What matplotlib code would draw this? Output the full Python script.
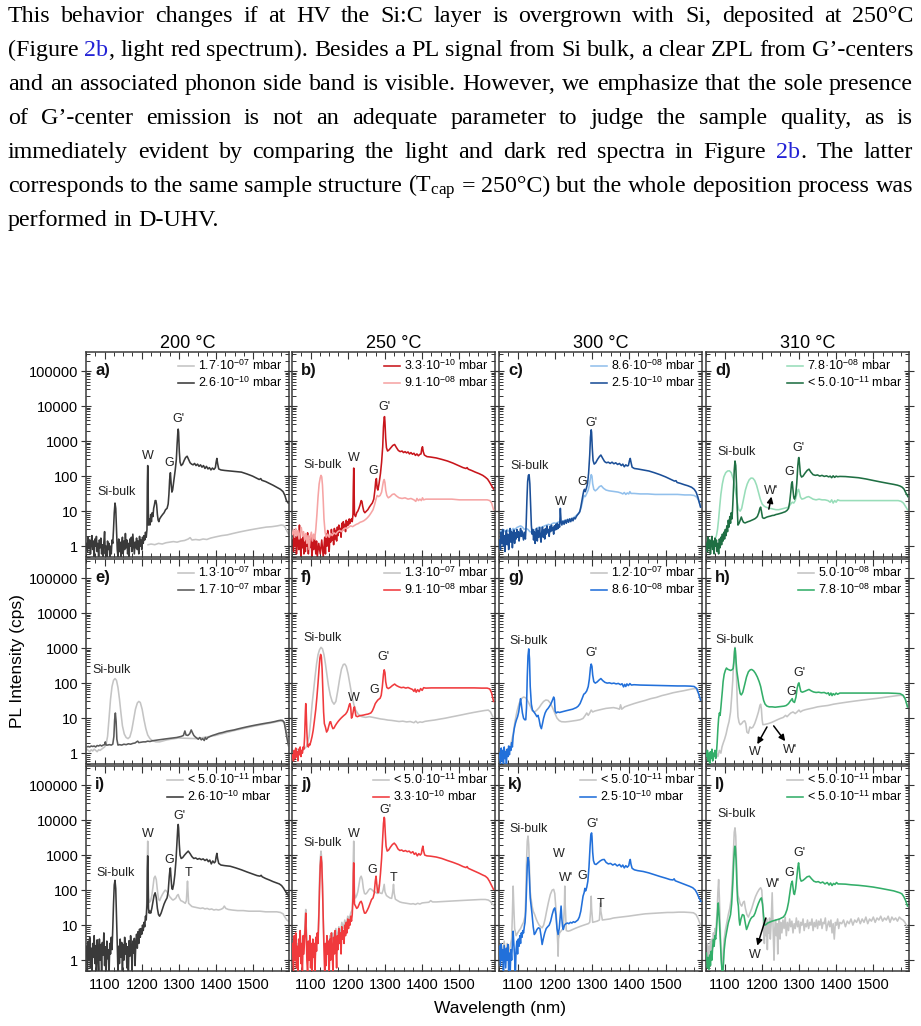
import matplotlib
matplotlib.use('Agg')
import matplotlib.pyplot as plt
from matplotlib.ticker import MultipleLocator, LogLocator, FixedLocator, FixedFormatter, NullFormatter

plt.rcParams['font.family'] = ['Liberation Sans', 'DejaVu Sans']
plt.rcParams['mathtext.fontset'] = 'custom'
plt.rcParams['mathtext.rm'] = 'Liberation Serif'
plt.rcParams['mathtext.sf'] = 'Liberation Sans'
plt.rcParams['mathtext.it'] = 'Liberation Serif:italic'
plt.rcParams['mathtext.bf'] = 'Liberation Serif:bold'

# ---------------- paragraph text ----------------
PARA_LINES = [
    "This behavior changes if at HV the Si:C layer is overgrown with Si, deposited at 250°C",
    "(Figure 2b, light red spectrum). Besides a PL signal from Si bulk, a clear ZPL from G’-centers",
    "and an associated phonon side band is visible. However, we emphasize that the sole presence",
    "of G’-center emission is not an adequate parameter to judge the sample quality, as is",
    "immediately evident by comparing the light and dark red spectra in Figure 2b. The latter",
    "corresponds to the same sample structure (T$_{\\mathrm{cap}}$ = 250°C) but the whole deposition process was",
    "performed in D-UHV.",
]
PARA_JUSTIFY = [True, True, True, True, True, True, False]

# ---------------- axes labels ----------------
COL_TITLES = ['200 °C', '250 °C', '300 °C', '310 °C']
PANEL_LETTERS = ['a)', 'b)', 'c)', 'd)', 'e)', 'f)', 'g)', 'h)', 'i)', 'j)', 'k)', 'l)']
Y_TICKS = [1, 10, 100, 1000, 10000, 100000]
Y_TICK_LABELS = ['1', '10', '100', '1000', '10000', '100000']
X_TICKS = [1100, 1200, 1300, 1400, 1500]
X_TICK_LABELS = ['1100', '1200', '1300', '1400', '1500']

# ---------------- spectra (wavelength nm, PL cps) ----------------
A_LIGHT = [(1217,1.1),(1225,1.15),(1235,1.1),(1245,1.2),(1255,1.15),(1265,1.25),(1275,1.3),(1285,1.35),(1295,1.3),
           (1305,1.4),(1315,1.45),(1325,1.6),(1330,1.75),(1335,1.5),(1345,1.55),(1355,1.5),(1365,1.6),(1375,1.55),
           (1385,1.7),(1395,1.8),(1405,1.9),(1415,2.0),(1430,2.1),(1445,2.3),(1460,2.5),(1475,2.7),(1490,2.9),
           (1505,3.1),(1520,3.3),(1535,3.5),(1550,3.6),(1565,3.8),(1575,4.0),(1582,3.9),(1587,3.3),(1591,2.6),(1595,2.2)]
A_DARK = [(1051,1.2),(1054,0.7),(1056,1.8),(1058,0.9),(1060,1.5),(1062,0.6),(1064,1.3),(1066,2.0),(1068,0.8),(1070,1.4),
          (1072,0.5),(1074,1.6),(1076,1.0),(1078,1.9),(1080,0.7),(1082,1.2),(1084,0.5),(1086,1.5),(1088,0.9),(1090,1.7),
          (1092,0.6),(1094,1.1),(1096,0.5),(1098,1.3),(1100,2.6),(1102,0.6),(1104,1.0),(1106,0.5),(1108,1.4),(1110,0.8),
          (1112,1.2),(1114,0.5),(1116,1.0),(1118,0.6),(1120,1.5),(1122,1.2),(1124,3),(1126,9),(1128,17),(1130,12),
          (1132,3),(1134,0.8),(1136,0.5),(1138,1.6),(1140,0.7),(1142,1.3),(1144,0.5),(1146,1.1),(1148,1.8),(1150,0.6),
          (1152,1.4),(1154,0.8),(1156,2.3),(1158,0.9),(1160,1.5),(1162,0.6),(1164,1.2),(1166,0.5),(1168,1.6),(1170,1.0),
          (1172,1.8),(1174,0.7),(1176,2.2),(1178,1.1),(1180,0.6),(1182,1.3),(1184,0.9),(1186,1.7),(1188,0.8),(1190,1.4),
          (1192,0.6),(1194,1.9),(1196,1.0),(1198,1.5),(1200,0.8),(1202,1.8),(1204,1.2),(1206,2.0),(1208,1.5),(1210,2.5),
          (1212,1.8),(1214,3),(1215,60),(1216,200),(1217,60),(1218,4),(1220,6),(1222,4),(1224,8),(1226,5),(1228,9),
          (1230,7),(1232,12),(1234,15),(1236,20),(1238,20),(1240,15),(1242,8),(1244,5.5),(1246,5),(1248,6),(1252,7),
          (1256,8),(1260,9),(1264,11),(1268,12),(1271,16),(1273,30),(1275,80),(1277,125),(1279,60),(1281,35),(1283,40),
          (1286,70),(1290,150),(1293,300),(1295,800),(1297,1800),(1298,2200),(1299,1800),(1301,500),(1303,250),(1306,200),
          (1310,220),(1314,280),(1318,340),(1322,370),(1326,300),(1330,240),(1334,220),(1338,210),(1342,230),(1346,200),
          (1350,220),(1354,190),(1358,210),(1362,180),(1366,200),(1370,165),(1374,190),(1378,160),(1382,175),(1386,150),
          (1390,170),(1394,155),(1398,175),(1400,250),(1402,320),(1404,230),(1407,160),(1413,150),(1423,145),(1438,140),
          (1453,135),(1468,130),(1483,115),(1498,100),(1508,88),(1516,80),(1520,85),(1523,76),(1533,70),(1543,62),
          (1553,55),(1563,48),(1573,42),(1580,36),(1585,28),(1589,20),(1594,17)]

B_DARK = [(1051,1.5),(1054,0.7),(1056,2.5),(1058,1.0),(1060,1.8),(1062,0.6),(1064,1.4),(1066,2.2),(1068,0.8),(1070,4),
          (1072,1.2),(1074,0.5),(1076,1.6),(1078,0.9),(1080,2.0),(1082,0.6),(1084,1.3),(1086,0.7),(1088,1.8),(1090,1.0),
          (1092,2.4),(1094,0.6),(1096,1.5),(1098,0.9),(1100,2.0),(1102,1.1),(1104,0.5),(1106,1.6),(1108,0.8),(1110,1.9),
          (1112,1.2),(1114,0.6),(1116,1.4),(1118,0.5),(1122,1.2),(1126,0.6),(1130,1.5),(1134,0.5),(1138,1.8),(1140,0.6),
          (1142,2.2),(1144,1.0),(1146,2.8),(1148,1.2),(1150,0.7),(1152,2.0),(1154,1.3),(1156,3.0),(1158,1.5),(1160,2.2),
          (1162,1.1),(1164,3.2),(1166,1.6),(1168,2.8),(1170,1.4),(1172,3.5),(1174,2.0),(1176,4.0),(1178,2.5),(1180,3.2),
          (1182,1.8),(1184,4.5),(1186,2.8),(1188,5),(1190,3.5),(1192,4.2),(1194,2.6),(1196,5.5),(1198,3.8),(1200,5),
          (1202,4),(1204,6),(1206,4.5),(1208,5.5),(1210,6),(1212,5),(1214,8),(1215,50),(1216,170),(1217,50),(1218,8),
          (1221,7),(1224,9),(1227,10),(1230,12),(1233,15),(1236,20),(1238,19),(1240,14),(1243,10),(1246,9),(1250,10),
          (1254,11),(1258,13),(1262,15),(1266,17),(1270,22),(1273,40),(1275,70),(1277,85),(1279,45),(1281,40),(1284,60),
          (1288,120),(1291,250),(1294,700),(1296,2500),(1298,4800),(1299,5000),(1300,3500),(1302,1200),(1304,650),
          (1307,520),(1311,560),(1316,650),(1321,750),(1326,800),(1331,650),(1336,540),(1341,500),(1346,520),(1350,470),
          (1354,500),(1358,460),(1362,490),(1366,430),(1370,470),(1374,420),(1378,450),(1382,390),(1386,430),(1390,380),
          (1394,420),(1397,430),(1399,600),(1401,690),(1403,500),(1406,400),(1413,360),(1423,350),(1438,330),(1453,300),
          (1468,270),(1483,235),(1498,200),(1510,175),(1518,165),(1521,175),(1524,158),(1533,145),(1543,130),(1553,118),
          (1563,105),(1570,93),(1576,82),(1581,68),(1586,55),(1592,43)]
B_LIGHT = [(1051,2.2),(1054,3.0),(1057,1.8),(1060,3.2),(1063,2.0),(1066,2.8),(1069,1.6),(1072,2.5),(1075,3.4),(1078,1.9),
           (1081,2.6),(1084,1.5),(1087,2.3),(1090,1.2),(1093,2.0),(1096,0.8),(1099,1.8),(1102,2.5),(1105,1.4),(1108,2.2),
           (1111,1.6),(1114,3),(1117,8),(1120,25),(1123,60),(1126,90),(1128,105),(1130,95),(1132,55),(1134,20),(1136,6),
           (1139,2.5),(1142,1.8),(1146,2.2),(1150,1.8),(1154,2.3),(1158,2.0),(1163,2.4),(1168,2.2),(1173,2.6),(1178,2.8),
           (1183,2.6),(1188,3.0),(1193,3.3),(1198,3.2),(1203,3.5),(1208,3.8),(1213,3.6),(1218,3.9),(1223,4.2),(1228,4.4),
           (1233,4.8),(1238,5.0),(1243,5.3),(1248,5.8),(1253,6.5),(1258,7.5),(1263,9),(1268,11),(1272,15),(1276,22),
           (1279,28),(1283,26),(1287,28),(1291,35),(1294,55),(1296,72),(1298,80),(1300,65),(1302,40),(1305,28),(1309,24),
           (1314,26),(1320,30),(1325,31),(1331,27),(1338,24),(1346,23),(1354,24),(1362,22),(1370,23),(1378,21),(1383,19),
           (1386,23),(1390,20),(1394,22),(1398,20),(1401,24),(1404,21),(1410,22),(1425,22),(1440,22),(1460,22),(1480,22),
           (1500,21),(1520,21),(1540,21),(1560,21),(1575,21),(1582,20),(1587,17),(1592,11)]

C_LIGHT = [(1051,2.4),(1056,2.8),(1060,2.2),(1064,2.9),(1068,2.5),(1072,3.0),(1076,2.6),(1080,3.1),(1084,2.7),(1088,3.2),
           (1093,3.0),(1098,3.4),(1103,3.6),(1108,3.8),(1113,3.5),(1118,3.0),(1123,3.2),(1128,3.0),(1133,2.6),(1138,2.5),
           (1143,2.8),(1148,3.0),(1153,3.3),(1158,3.5),(1163,3.4),(1168,3.6),(1173,3.8),(1178,4.0),(1183,4.2),(1188,4.0),
           (1193,4.4),(1198,4.6),(1203,4.5),(1208,4.8),(1213,5.0),(1218,4.9),(1223,5.2),(1228,5.4),(1233,5.5),(1238,5.8),
           (1243,6.0),(1248,6.3),(1253,6.8),(1258,7.5),(1263,8.5),(1268,10),(1272,14),(1276,22),(1279,28),(1282,26),
           (1286,32),(1290,40),(1293,55),(1296,90),(1298,110),(1300,100),(1302,60),(1305,42),(1309,38),(1314,42),(1320,50),
           (1325,53),(1331,45),(1338,40),(1346,38),(1354,37),(1362,36),(1370,35),(1378,33),(1383,31),(1387,34),(1391,30),
           (1395,33),(1399,31),(1402,36),(1405,32),(1413,32),(1430,31),(1450,31),(1470,30),(1490,30),(1510,30),(1530,30),
           (1550,29),(1565,29),(1575,28),(1582,25),(1587,20),(1592,14)]
C_DARK = [(1051,1.5),(1054,0.8),(1056,2.5),(1058,1.2),(1060,3.0),(1062,1.0),(1064,2.0),(1066,0.7),(1068,1.8),(1070,2.8),
          (1072,1.1),(1074,2.2),(1076,0.8),(1078,1.5),(1080,3.2),(1082,1.3),(1084,2.6),(1086,0.9),(1088,1.9),(1090,2.9),
          (1092,1.2),(1094,2.4),(1096,1.6),(1098,3.0),(1100,1.8),(1102,2.6),(1104,1.4),(1106,2.2),(1108,3.2),(1110,1.9),
          (1112,2.7),(1114,2.0),(1116,1.5),(1118,2.5),(1121,1.6),(1123,4),(1125,20),(1127,70),(1129,105),(1131,110),
          (1133,60),(1135,15),(1137,4),(1139,2.2),(1141,3.0),(1143,1.5),(1145,2.6),(1147,1.2),(1149,2.2),(1151,3.2),
          (1153,1.4),(1155,2.8),(1157,1.8),(1159,3.4),(1161,2.0),(1163,1.3),(1165,2.6),(1167,3.5),(1169,1.8),(1171,2.9),
          (1173,1.6),(1175,3.2),(1177,2.2),(1179,3.8),(1181,2.4),(1183,3.0),(1185,1.9),(1187,3.6),(1189,2.6),(1191,4.0),
          (1193,2.8),(1195,3.4),(1197,2.2),(1199,3.8),(1201,2.9),(1203,4.2),(1205,3.0),(1207,4.5),(1209,3.2),(1211,4.0),
          (1213,3.5),(1215,12),(1217,5),(1219,4.0),(1222,5.2),(1225,4.2),(1228,5.5),(1231,4.5),(1234,5.8),(1237,4.8),
          (1240,6.0),(1243,5.0),(1246,6.2),(1249,5.3),(1252,6.5),(1255,6.0),(1258,7.0),(1261,7.8),(1264,8.5),(1267,9.5),
          (1270,13),(1273,20),(1276,30),(1278,38),(1280,42),(1282,36),(1285,45),(1288,60),(1291,120),(1294,400),
          (1296,1300),(1298,2100),(1299,1800),(1301,600),(1303,280),(1306,220),(1310,240),(1315,300),(1320,360),
          (1324,400),(1329,320),(1334,260),(1339,240),(1344,250),(1349,230),(1354,250),(1359,225),(1364,240),(1369,215),
          (1374,230),(1379,200),(1383,220),(1387,185),(1391,210),(1395,195),(1398,200),(1401,280),(1403,320),(1405,250),
          (1408,180),(1414,165),(1423,160),(1438,150),(1453,140),(1468,125),(1483,110),(1498,95),(1513,80),(1522,72),
          (1526,74),(1529,66),(1538,62),(1548,57),(1558,53),(1568,48),(1575,42),(1580,35),(1585,25),(1592,13)]

D_LIGHT = [(1051,1.3),(1058,1.1),(1064,1.4),(1070,1.2),(1074,1.5),(1078,2.0),(1081,3.0),(1084,6),(1087,14),(1090,30),
           (1094,60),(1098,95),(1103,125),(1108,140),(1113,142),(1118,125),(1123,85),(1128,45),(1133,20),(1138,11),
           (1142,10),(1146,12),(1151,22),(1156,40),(1161,60),(1166,78),(1171,88),(1176,87),(1181,75),(1186,55),(1191,35),
           (1196,22),(1201,16),(1206,14),(1211,13),(1216,12.5),(1223,12),(1230,11.5),(1238,11),(1246,11),(1253,11.5),
           (1260,12),(1266,12.5),(1272,13),(1278,16),(1282,18),(1286,17),(1290,20),(1294,30),(1297,40),(1299,42),(1301,35),
           (1304,25),(1308,22),(1314,23),(1320,25),(1326,26),(1332,24),(1338,22),(1346,21),(1354,22),(1362,21),(1370,21),
           (1378,20),(1384,18),(1388,21),(1392,17),(1396,20),(1400,18),(1404,21),(1410,20),(1425,20),(1440,20),(1460,20),
           (1480,20),(1500,20),(1520,20),(1540,20),(1555,20),(1567,20),(1575,19),(1581,17),(1586,14),(1592,11)]
D_DARK = [(1051,1.2),(1054,0.7),(1056,1.8),(1058,0.9),(1060,1.5),(1062,0.6),(1064,1.3),(1066,1.9),(1068,0.8),(1070,1.4),
          (1072,0.6),(1074,1.7),(1076,1.0),(1078,1.5),(1080,0.7),(1082,1.2),(1084,0.6),(1086,1.6),(1088,0.9),(1090,1.8),
          (1092,1.1),(1094,2.2),(1096,1.4),(1098,2.5),(1100,1.6),(1102,3.0),(1104,2.0),(1106,3.8),(1108,2.6),(1110,5.5),
          (1112,3.5),(1114,7),(1116,4.5),(1118,9),(1120,6),(1122,15),(1124,45),(1126,150),(1128,270),(1130,200),(1132,60),
          (1134,12),(1136,4.0),(1139,4.5),(1142,5.5),(1145,6.8),(1148,5.5),(1151,4.8),(1155,4.6),(1159,4.8),(1163,5.0),
          (1168,5.2),(1173,5.5),(1178,5.8),(1183,6.2),(1188,7),(1192,9),(1195,12),(1197,13),(1199,10),(1202,6.5),
          (1206,6.2),(1210,6.5),(1214,6.8),(1218,7.0),(1223,7.2),(1228,7.5),(1233,7.6),(1238,8.0),(1243,8.2),(1248,8.5),
          (1253,8.8),(1258,9.2),(1263,9.6),(1268,10.5),(1272,12),(1275,18),(1278,35),(1280,60),(1282,69),(1284,40),
          (1286,25),(1288,22),(1291,28),(1294,60),(1297,200),(1299,330),(1300,340),(1302,200),(1304,110),(1307,94),
          (1311,100),(1316,120),(1322,145),(1327,158),(1332,130),(1338,110),(1344,105),(1350,108),(1356,100),(1362,105),
          (1368,98),(1374,102),(1380,95),(1384,100),(1388,90),(1392,102),(1396,92),(1400,100),(1404,96),(1410,98),
          (1425,97),(1440,94),(1460,90),(1480,83),(1500,75),(1520,68),(1540,62),(1555,58),(1565,55),(1572,52),(1578,48),
          (1583,42),(1587,34),(1593,26)]

E_LIGHT = [(1051,1.3),(1056,1.2),(1060,1.1),(1064,1.25),(1068,1.15),(1072,1.3),(1076,1.2),(1080,1.1),(1084,1.25),
           (1088,1.2),(1092,1.3),(1096,1.4),(1100,1.5),(1104,1.8),(1108,3),(1112,10),(1116,35),(1120,80),(1124,120),
           (1128,135),(1132,120),(1136,75),(1140,35),(1144,14),(1148,6),(1153,3.5),(1158,2.8),(1163,2.6),(1168,2.9),
           (1173,4.5),(1178,9),(1183,18),(1188,27),(1192,30),(1196,28),(1201,18),(1206,9),(1211,5),(1216,3.3),(1222,2.6),
           (1228,2.3),(1238,2.1),(1248,2.1),(1268,2.4),(1298,2.7),(1348,2.6),(1398,3.2),(1448,4.4),(1498,5.8),(1548,7.3),
           (1573,8.3),(1583,7.8),(1588,5),(1594,2.0)]
E_DARK = [(1051,1.5),(1056,1.55),(1060,1.5),(1064,1.6),(1068,1.55),(1072,1.6),(1076,1.5),(1080,1.65),(1084,1.6),(1088,1.7),
          (1092,1.6),(1096,1.7),(1100,1.75),(1102,2.1),(1104,1.7),(1108,1.7),(1113,1.75),(1118,1.7),(1122,1.8),(1125,3),
          (1127,9),(1129,14),(1131,8),(1133,2.5),(1136,1.7),(1140,1.75),(1146,1.7),(1152,1.8),(1158,1.75),(1164,1.85),
          (1170,1.8),(1176,1.9),(1182,1.95),(1186,2.1),(1189,2.2),(1192,2.0),(1198,2.05),(1204,2.1),(1210,2.1),(1216,2.2),
          (1222,2.15),(1228,2.25),(1234,2.3),(1240,2.35),(1246,2.4),(1252,2.45),(1258,2.5),(1264,2.55),(1270,2.6),
          (1276,2.65),(1282,2.7),(1288,2.75),(1294,2.8),(1300,2.9),(1306,3.0),(1312,3.2),(1316,4.3),(1319,3.3),(1324,3.2),
          (1329,3.6),(1333,4.6),(1336,3.9),(1340,3.2),(1344,2.9),(1348,2.7),(1352,2.5),(1356,2.8),(1360,2.4),(1364,2.6),
          (1368,2.3),(1371,2.8),(1374,2.5),(1378,2.8),(1384,3.0),(1390,3.2),(1398,3.4),(1408,3.7),(1418,3.9),(1428,4.2),
          (1438,4.4),(1448,4.6),(1458,4.9),(1468,5.2),(1478,5.5),(1488,5.8),(1498,6.1),(1508,6.4),(1518,6.7),(1528,7.0),
          (1538,7.3),(1548,7.6),(1558,8.0),(1568,8.5),(1574,8.7),(1579,8.6),(1583,7.5),(1587,4.5),(1591,2.5),(1595,1.6)]

F_LIGHT = [(1051,1.2),(1058,1.1),(1064,1.3),(1070,1.2),(1076,1.1),(1082,1.3),(1088,1.5),(1092,2.0),(1096,3),(1100,8),
           (1104,25),(1108,60),(1112,150),(1116,350),(1120,650),(1124,900),(1128,1050),(1132,950),(1136,650),(1140,350),
           (1144,170),(1148,85),(1153,45),(1158,30),(1163,25),(1168,30),(1173,60),(1178,130),(1183,250),(1188,340),
           (1192,350),(1196,300),(1201,180),(1206,90),(1211,45),(1216,25),(1221,17),(1228,13),(1238,11),(1248,10.5),
           (1258,11),(1268,10.5),(1278,10),(1288,9.5),(1298,9.2),(1308,8.8),(1318,8.6),(1328,8.3),(1338,8.0),(1348,8.2),
           (1358,7.8),(1368,8.0),(1378,7.4),(1383,8.2),(1388,7.3),(1394,7.8),(1400,7.6),(1408,8.1),(1418,8.4),(1433,8.8),
           (1448,9.4),(1463,10),(1478,10.8),(1493,11.6),(1508,12.5),(1523,13.5),(1538,14.5),(1553,15.5),(1568,16.5),
           (1578,17),(1584,15),(1590,11)]
F_RED = [(1051,0.9),(1054,0.6),(1056,1.2),(1058,0.7),(1060,1.4),(1062,0.8),(1064,1.1),(1066,0.6),(1068,1.3),(1070,0.9),
         (1072,1.5),(1074,0.8),(1076,1.2),(1078,1.0),(1080,1.5),(1082,1.3),(1084,3),(1086,15),(1087,26),(1088,18),(1090,4),
         (1092,1.6),(1094,1.5),(1096,1.8),(1098,1.7),(1101,2.2),(1104,3),(1107,4.5),(1110,8),(1114,18),(1117,40),(1120,100),
         (1123,280),(1125,520),(1127,660),(1129,560),(1131,250),(1133,60),(1135,15),(1137,7),(1140,5.5),(1143,4),
         (1146,4.5),(1149,6),(1152,7.8),(1154,7.9),(1157,6),(1160,5),(1163,5.2),(1166,6),(1170,7),(1174,8),(1178,9),
         (1182,10),(1186,11),(1190,12),(1194,13),(1198,15),(1201,18),(1204,24),(1206,26),(1208,20),(1210,10),(1212,11),
         (1214,14),(1216,19),(1218,21),(1220,15),(1222,11.5),(1226,11),(1230,11.5),(1234,11.8),(1238,12),(1242,12.2),
         (1246,12.5),(1250,12.8),(1254,13),(1258,13.5),(1262,14),(1266,16),(1270,20),(1274,26),(1278,30),(1281,33),
         (1284,35),(1287,37),(1290,45),(1293,80),(1296,180),(1298,240),(1300,200),(1302,110),(1305,75),(1309,70),
         (1314,75),(1320,85),(1326,94),(1331,85),(1338,78),(1344,74),(1350,76),(1356,72),(1362,75),(1368,70),(1374,66),
         (1378,58),(1381,68),(1384,55),(1388,65),(1392,57),(1396,70),(1400,62),(1404,74),(1410,72),(1425,73),(1440,73),
         (1460,73),(1480,73),(1500,73),(1520,73),(1540,73),(1560,72),(1575,72),(1582,68),(1587,52),(1592,30)]

G_LIGHT = [(1051,1.0),(1058,1.1),(1064,1.0),(1070,1.2),(1076,1.3),(1082,1.8),(1088,3.5),(1093,8),(1098,15),(1104,26),
           (1110,36),(1116,40),(1122,38),(1128,30),(1134,22),(1140,16),(1146,15),(1152,17),(1158,20),(1164,25),(1170,30),
           (1176,33),(1182,32),(1188,27),(1194,20),(1200,14),(1206,10),(1212,8.5),(1218,7.9),(1228,7.8),(1238,8.0),
           (1248,8.3),(1258,8.6),(1268,9.0),(1276,9.8),(1282,12),(1286,14),(1290,12),(1294,14),(1298,17),(1302,15),
           (1308,16),(1318,17),(1328,18),(1338,19),(1348,19.5),(1358,20),(1368,19),(1374,18),(1377,24),(1380,18),(1388,21),
           (1398,23),(1413,26),(1428,29),(1443,32),(1458,36),(1473,39),(1488,44),(1503,48),(1518,53),(1533,57),(1548,61),
           (1563,66),(1573,69),(1580,70),(1586,52),(1592,33)]
G_BLUE = [(1051,1.0),(1054,0.5),(1056,1.4),(1058,0.6),(1060,1.2),(1062,0.45),(1064,1.5),(1066,0.7),(1068,1.1),(1070,0.5),
          (1072,1.3),(1074,0.8),(1076,1.6),(1078,0.9),(1080,1.5),(1082,1.2),(1084,2),(1086,1.5),(1088,3),(1091,5),(1094,7),
          (1097,9),(1100,11),(1103,15),(1106,25),(1108,36),(1110,25),(1113,14),(1116,10),(1119,9),(1122,9),(1124,20),
          (1126,150),(1128,600),(1130,950),(1132,500),(1134,80),(1137,25),(1140,17),(1144,15),(1148,13),(1152,11),
          (1155,12),(1158,9),(1161,6),(1164,5),(1167,7),(1170,10),(1174,14),(1178,17),(1182,19),(1186,22),(1190,26),
          (1194,33),(1197,40),(1199,35),(1201,16),(1204,14),(1208,15),(1213,14.5),(1218,15),(1223,15.5),(1228,16),
          (1233,16.5),(1238,17),(1243,17.5),(1248,18),(1253,19),(1258,20),(1263,22),(1268,26),(1273,35),(1278,48),
          (1282,52),(1286,60),(1290,80),(1293,130),(1296,280),(1298,350),(1300,300),(1302,170),(1305,110),(1309,100),
          (1314,108),(1319,122),(1324,135),(1329,118),(1335,105),(1341,100),(1347,102),(1353,97),(1359,100),(1365,95),
          (1371,98),(1377,90),(1381,96),(1385,78),(1388,92),(1391,80),(1394,95),(1398,85),(1402,97),(1406,88),(1413,90),
          (1430,88),(1450,87),(1470,86),(1490,85),(1510,84),(1530,83),(1550,83),(1565,82),(1575,80),(1582,70),(1587,50),
          (1592,33)]

H_LIGHT = [(1078,1.0),(1082,0.8),(1086,1.2),(1090,1.0),(1093,1.5),(1096,1.9),(1100,2.5),(1104,3.5),(1108,5.5),(1112,8),
           (1116,15),(1119,40),(1122,120),(1124,350),(1126,800),(1128,1050),(1130,600),(1132,150),(1134,30),(1136,11),
           (1139,7.5),(1142,6.5),(1146,7),(1150,8),(1154,8.4),(1157,7),(1160,4),(1164,3.7),(1168,5.6),(1172,5.2),
           (1176,5.5),(1181,7),(1186,10),(1191,15),(1195,23),(1197,25),(1199,18),(1201,9),(1203,6.5),(1208,6.6),(1213,6.8),
           (1218,7),(1226,7.5),(1234,8.2),(1242,9),(1250,9.8),(1258,10.5),(1264,12),(1268,11),(1273,12.5),(1278,14),
           (1284,15),(1290,13.5),(1295,15),(1300,17),(1304,15),(1310,16.5),(1318,17.5),(1328,18.5),(1338,19.5),(1350,21),
           (1363,22),(1378,23),(1393,25),(1408,26.5),(1423,28),(1438,29.5),(1453,31),(1468,32.5),(1483,34),(1498,35.5),
           (1513,37),(1528,39),(1543,41),(1558,43),(1573,45),(1580,44),(1586,35),(1592,21)]
H_GREEN = [(1051,0.8),(1054,1.2),(1056,0.6),(1058,1.0),(1060,0.5),(1062,1.1),(1064,0.7),(1066,1.3),(1068,0.6),(1070,1.0),
           (1072,0.8),(1074,1.2),(1076,0.7),(1078,1.0),(1080,2),(1082,5),(1084,10),(1086,14),(1088,12),(1090,20),(1092,35),
           (1094,60),(1096,110),(1099,180),(1102,230),(1105,270),(1108,250),(1112,240),(1116,230),(1120,240),(1123,260),
           (1125,400),(1127,800),(1128,1000),(1129,850),(1131,400),(1133,220),(1136,130),(1139,75),(1142,50),(1145,46),
           (1149,55),(1154,90),(1159,150),(1164,210),(1169,240),(1173,245),(1178,225),(1183,190),(1188,150),(1193,110),
           (1197,80),(1201,50),(1205,32),(1209,25),(1214,22),(1220,21),(1228,21),(1236,20.5),(1244,21),(1252,21.5),
           (1260,22),(1266,23),(1272,26),(1276,30),(1280,34),(1282,36),(1284,30),(1288,28),(1292,40),(1295,70),(1298,95),
           (1300,102),(1302,80),(1305,58),(1309,55),(1315,58),(1321,62),(1327,66),(1333,60),(1339,56),(1346,54),(1353,55),
           (1360,53),(1368,54),(1375,50),(1379,53),(1382,45),(1386,52),(1389,44),(1392,50),(1396,46),(1400,52),(1404,48),
           (1410,52),(1425,52),(1440,52),(1460,52),(1480,52),(1500,52),(1520,52),(1540,52),(1560,51),(1572,50),(1580,45),
           (1586,35),(1592,21)]

I_LIGHT = [(1203,8),(1206,10),(1209,14),(1212,20),(1214,60),(1215,800),(1216,2500),(1217,700),(1218,60),(1221,45),
           (1224,50),(1227,70),(1230,120),(1233,220),(1236,250),(1239,200),(1242,100),(1245,55),(1248,50),(1251,60),
           (1254,70),(1257,80),(1260,90),(1263,100),(1266,95),(1269,85),(1272,75),(1275,65),(1278,60),(1281,55),(1284,52),
           (1288,55),(1292,60),(1295,70),(1298,75),(1301,60),(1305,50),(1309,48),(1313,45),(1317,42),(1320,50),(1322,120),
           (1323,180),(1324,110),(1326,42),(1330,38),(1335,34),(1340,33),(1346,32),(1352,31),(1358,30),(1364,31),(1370,29),
           (1376,30),(1382,28),(1388,29),(1394,27),(1400,28),(1406,27),(1412,28),(1418,30),(1422,35),(1426,30),(1433,28),
           (1443,27),(1458,26),(1473,26),(1488,25),(1503,25),(1518,25),(1533,24),(1548,24),(1563,24),(1573,23),(1580,21),
           (1585,17),(1590,14),(1595,13)]
I_DARK = [(1051,2.5),(1054,0.5),(1056,3.5),(1058,1.0),(1060,4.5),(1062,0.6),(1064,2.2),(1066,0.4),(1068,3.0),(1070,1.2),
          (1072,5.0),(1074,0.8),(1076,2.6),(1078,0.3),(1080,3.8),(1082,1.5),(1084,0.5),(1086,4.0),(1088,1.0),(1090,2.8),
          (1092,0.4),(1094,3.2),(1096,1.4),(1098,6),(1100,0.7),(1102,2.4),(1104,0.3),(1106,3.5),(1108,1.1),(1110,2.0),
          (1112,0.4),(1114,3.0),(1116,1.5),(1118,4.5),(1120,2.0),(1122,8),(1124,40),(1126,140),(1128,190),(1130,110),
          (1132,20),(1134,3),(1136,0.4),(1138,2.5),(1140,0.8),(1142,4.0),(1144,1.2),(1146,3.2),(1148,0.5),(1150,2.8),
          (1152,1.0),(1154,4.5),(1156,1.5),(1158,3.0),(1160,0.6),(1162,2.4),(1164,0.4),(1166,3.6),(1168,1.3),(1170,5),
          (1172,2.0),(1174,0.5),(1176,3.5),(1178,1.6),(1180,4.2),(1182,0.7),(1184,3.0),(1186,5.5),(1188,2.2),(1190,6.5),
          (1192,3.0),(1194,7.7),(1196,4.5),(1198,8),(1200,5.5),(1202,10),(1204,7),(1206,12),(1208,9),(1210,18),(1212,14),
          (1214,40),(1215,400),(1216,950),(1217,300),(1218,30),(1220,22),(1222,25),(1224,22),(1227,30),(1230,45),(1233,70),
          (1236,84),(1239,60),(1242,30),(1245,20),(1248,18),(1252,22),(1256,30),(1260,40),(1264,50),(1268,60),(1271,90),
          (1274,250),(1276,400),(1277,430),(1279,200),(1281,110),(1283,105),(1286,150),(1289,280),(1292,700),(1295,2500),
          (1297,6500),(1298,7500),(1299,6000),(1301,2000),(1303,1000),(1306,800),(1310,850),(1315,1000),(1320,1150),
          (1325,1300),(1330,1100),(1335,900),(1340,800),(1345,830),(1350,760),(1355,800),(1360,740),(1365,780),(1370,700),
          (1375,760),(1379,650),(1383,720),(1387,560),(1391,680),(1395,600),(1398,650),(1400,900),(1402,1120),(1404,800),
          (1407,580),(1413,520),(1423,500),(1438,480),(1453,430),(1468,380),(1483,330),(1498,290),(1510,260),(1518,250),
          (1521,265),(1524,240),(1533,215),(1543,195),(1553,175),(1563,160),(1570,150),(1576,135),(1581,115),(1586,95),
          (1590,80),(1595,70)]

J_LIGHT = [(1051,2),(1056,4),(1060,1),(1064,3),(1068,1.5),(1072,6),(1076,1),(1080,4),(1084,6),(1086,20),(1087,28),(1088,10),
           (1092,2),(1096,1.5),(1100,3),(1104,1),(1108,2.5),(1112,1.2),(1116,3),(1120,5),(1122,20),(1124,200),(1126,800),
           (1128,1300),(1130,800),(1132,150),(1134,15),(1136,3),(1140,2),(1144,4),(1148,2),(1152,5),(1156,3),(1160,6),
           (1164,2.5),(1168,8),(1172,4),(1176,9),(1180,5),(1184,12),(1188,8),(1192,14),(1196,10),(1200,18),(1204,15),
           (1208,22),(1212,28),(1214,100),(1215,900),(1216,2500),(1217,700),(1218,80),(1221,60),(1224,70),(1227,90),
           (1230,140),(1233,220),(1236,250),(1239,200),(1242,110),(1245,80),(1248,77),(1252,85),(1256,100),(1260,110),
           (1264,105),(1268,95),(1272,90),(1276,85),(1280,80),(1283,100),(1284,140),(1285,85),(1288,82),(1292,80),(1295,100),
           (1298,146),(1300,90),(1304,70),(1308,65),(1313,60),(1318,58),(1321,90),(1323,146),(1325,80),(1328,55),(1334,50),
           (1340,46),(1346,44),(1352,43),(1358,42),(1364,41),(1370,40),(1376,41),(1382,39),(1388,42),(1394,40),(1400,43),
           (1408,44),(1418,45),(1423,50),(1428,46),(1438,46),(1453,47),(1468,48),(1483,49),(1498,50),(1513,51),(1528,52),
           (1543,53),(1558,54),(1570,54),(1578,52),(1584,47),(1589,40),(1594,36)]
J_RED = [(1051,3),(1054,0.5),(1056,5),(1058,1.0),(1060,6),(1062,0.6),(1064,2.5),(1066,0.35),(1068,4.0),(1070,1.3),(1072,7),
         (1074,0.8),(1076,3.0),(1078,0.4),(1080,5),(1082,1.5),(1084,4),(1086,12),(1087,22),(1088,8),(1090,1.0),(1092,0.4),
         (1094,3.5),(1096,1.0),(1098,5),(1100,0.6),(1102,3.0),(1104,0.35),(1106,4.0),(1108,1.2),(1110,3.0),(1112,0.5),
         (1114,4.5),(1116,1.8),(1118,6),(1120,3),(1122,15),(1124,100),(1126,500),(1128,900),(1130,600),(1132,120),
         (1134,15),(1136,2),(1138,0.4),(1140,3.0),(1142,0.7),(1144,5),(1146,1.5),(1148,3.5),(1150,0.4),(1152,4.0),
         (1154,1.0),(1156,6),(1158,2.0),(1160,0.5),(1162,4.5),(1164,1.5),(1166,7),(1168,2.5),(1170,0.6),(1172,5),
         (1174,2.0),(1176,8),(1178,3.0),(1180,6),(1182,1.5),(1184,9),(1186,4),(1188,7),(1190,3),(1192,10),(1194,5),
         (1196,12),(1198,6),(1200,15),(1202,8),(1204,14),(1206,10),(1208,18),(1210,13),(1212,20),(1214,60),(1215,300),
         (1216,600),(1217,200),(1218,40),(1221,35),(1224,30),(1227,32),(1230,38),(1233,45),(1236,48),(1239,40),(1242,28),
         (1245,22),(1248,22),(1252,26),(1256,32),(1260,42),(1264,54),(1268,60),(1271,80),(1274,180),(1276,250),(1278,150),
         (1280,90),(1282,84),(1285,130),(1288,300),(1291,800),(1294,3000),(1296,8000),(1298,12000),(1299,11000),
         (1301,4000),(1303,1800),(1306,1300),(1310,1400),(1315,1700),(1320,2000),(1325,2200),(1330,1900),(1335,1500),
         (1340,1350),(1345,1400),(1350,1280),(1355,1350),(1360,1250),(1365,1300),(1370,1150),(1375,1250),(1379,1050),
         (1383,1150),(1387,950),(1391,1100),(1395,1000),(1398,1100),(1400,1500),(1402,1800),(1404,1300),(1407,1000),
         (1413,950),(1423,930),(1438,880),(1453,800),(1468,700),(1483,620),(1498,540),(1510,470),(1518,440),(1521,470),
         (1524,420),(1533,380),(1543,340),(1553,305),(1563,270),(1570,250),(1576,220),(1581,180),(1586,140),(1592,105)]

K_LIGHT = [(1051,1.5),(1056,3),(1060,1.2),(1064,3.5),(1068,1.0),(1072,3),(1076,1.5),(1080,2.5),(1084,4),(1086,20),
           (1088,130),(1090,30),(1092,8),(1096,5),(1100,6),(1104,7),(1108,8),(1112,10),(1116,12),(1120,18),(1122,60),
           (1124,600),(1126,2500),(1128,3500),(1130,2000),(1132,400),(1134,90),(1136,60),(1139,35),(1142,25),(1146,20),
           (1150,15),(1154,12),(1158,10),(1162,9),(1166,8.4),(1170,10),(1174,15),(1178,25),(1183,45),(1188,75),(1193,100),
           (1197,105),(1200,80),(1203,30),(1206,8),(1208,3),(1209,1.3),(1210,4),(1213,6),(1218,7),(1223,8),(1226,40),
           (1227,130),(1228,40),(1231,7),(1236,6.7),(1242,7),(1248,7.5),(1254,8),(1260,8.5),(1266,9),(1272,9.5),(1278,10),
           (1284,10.5),(1290,11),(1294,12),(1297,30),(1298,67),(1299,30),(1302,12),(1308,12.5),(1314,13),(1320,14),
           (1322,30),(1323,43),(1324,25),(1328,14),(1338,14.5),(1348,15),(1358,16),(1368,16.5),(1378,17),(1388,17.5),
           (1398,18),(1413,19),(1428,20),(1443,21),(1458,21.5),(1473,22),(1488,22.5),(1503,23),(1518,23),(1533,23.5),
           (1548,23.5),(1563,23),(1573,22.5),(1580,20),(1586,15),(1592,10)]
K_BLUE = [(1051,2.5),(1054,0.7),(1056,2.9),(1058,1.0),(1060,2.0),(1062,0.5),(1064,2.6),(1066,1.2),(1068,0.6),(1070,2.2),
          (1072,1.0),(1074,2.8),(1076,0.5),(1078,1.6),(1080,0.4),(1082,2.0),(1084,1.0),(1086,3),(1088,6.7),(1090,3),
          (1092,1.2),(1094,0.4),(1096,2.0),(1098,3.5),(1100,1.5),(1102,4.0),(1104,2.5),(1106,5),(1108,3),(1110,6),(1112,4.5),
          (1114,7),(1116,6),(1118,9),(1120,12),(1122,25),(1124,120),(1126,500),(1128,850),(1130,650),(1132,200),(1134,60),
          (1136,39),(1139,20),(1142,9),(1145,5.4),(1148,6),(1152,7.5),(1156,8.4),(1160,8.0),(1163,5),(1166,2.8),(1169,4),
          (1173,6),(1177,8),(1181,9),(1185,10),(1189,13),(1193,20),(1197,28),(1200,31),(1203,20),(1206,8),(1209,5.4),
          (1212,8),(1215,20),(1217,35),(1219,15),(1221,9),(1223,7.5),(1226,10),(1230,11),(1234,11.5),(1238,11),(1242,12),
          (1246,11.5),(1250,12.5),(1254,12),(1258,13),(1262,14),(1266,17),(1270,25),(1273,40),(1276,67),(1279,85),
          (1281,112),(1283,95),(1286,120),(1289,180),(1292,450),(1295,1800),(1297,3800),(1299,4300),(1300,3500),
          (1302,1200),(1304,700),(1307,560),(1311,540),(1316,600),(1322,680),(1328,740),(1333,750),(1338,620),(1344,560),
          (1350,580),(1356,520),(1362,560),(1368,490),(1374,540),(1379,460),(1383,520),(1387,430),(1391,500),(1395,450),
          (1399,500),(1401,650),(1403,750),(1405,550),(1408,420),(1414,380),(1423,360),(1438,340),(1453,310),(1468,275),
          (1483,245),(1498,220),(1510,200),(1518,195),(1521,210),(1524,185),(1533,170),(1543,155),(1553,140),(1563,128),
          (1571,117),(1578,100),(1583,80),(1588,60),(1593,48)]

L_LIGHT = [(1051,1.5),(1054,3),(1056,0.9),(1058,2.5),(1060,1.2),(1062,3.5),(1064,1.6),(1066,4),(1068,2.2),(1070,6),(1072,3),
           (1074,8),(1076,5),(1078,12),(1080,25),(1082,90),(1084,200),(1086,60),(1088,10),(1090,2),(1092,0.8),(1094,0.5),
           (1096,1.5),(1099,4),(1102,7),(1106,12),(1110,20),(1114,30),(1118,60),(1121,250),(1124,1500),(1126,4500),
           (1128,6000),(1130,3500),(1132,800),(1134,150),(1136,70),(1139,54),(1142,40),(1146,35),(1150,45),(1153,48),
           (1156,30),(1160,20),(1164,17),(1168,22),(1173,30),(1178,45),(1183,65),(1188,85),(1193,105),(1197,117),
           (1200,100),(1203,30),(1205,8),(1207,3),(1209,10),(1211,5),(1213,15),(1215,2),(1217,12),(1219,6),(1221,16),
           (1223,4),(1225,10),(1227,40),(1228,84),(1229,30),(1231,5),(1233,1.0),(1235,8),(1237,14),(1239,5),(1241,11),
           (1243,1.5),(1245,9),(1247,15),(1249,4),(1251,12),(1254,6),(1257,14),(1260,8),(1263,17),(1266,5),(1269,12),
           (1272,7),(1275,15),(1278,9),(1281,13),(1284,6),(1287,11),(1290,8),(1293,16),(1296,9),(1299,13),(1302,6),
           (1305,12),(1308,10),(1311,15),(1314,7),(1317,11),(1320,9),(1323,14),(1326,8),(1329,12),(1332,10),(1335,15),
           (1338,7),(1341,12),(1344,9),(1347,14),(1350,8),(1353,13),(1356,10),(1359,15),(1362,8),(1365,12),(1368,11),
           (1371,16),(1374,7),(1377,10),(1380,13),(1383,9),(1386,14),(1389,6),(1392,11),(1395,4),(1398,12),(1401,10),
           (1404,15),(1407,8),(1410,12),(1415,11),(1420,14),(1425,9),(1430,13),(1435,11),(1440,15),(1445,10),(1450,14),
           (1455,12),(1460,16),(1465,11),(1470,15),(1475,12),(1480,17),(1485,11),(1490,15),(1495,13),(1500,17),(1505,12),
           (1510,16),(1515,14),(1520,18),(1525,13),(1530,16),(1535,14),(1540,18),(1545,12),(1550,17),(1555,14),(1560,16),
           (1565,13),(1570,17),(1575,15),(1580,14),(1585,12),(1591,9)]
L_GREEN = [(1051,1.6),(1054,0.6),(1056,1.2),(1058,0.55),(1060,1.4),(1062,0.7),(1064,1.8),(1066,1.0),(1068,2.5),(1070,3.9),
           (1072,2.5),(1074,5),(1076,4),(1078,7),(1080,15),(1082,35),(1083,43),(1085,20),(1087,8),(1089,3),(1091,1.0),
           (1093,0.5),(1095,0.4),(1097,0.8),(1099,2),(1102,4),(1105,6),(1108,9),(1110,11.6),(1113,15),(1116,20),(1119,40),
           (1122,150),(1125,800),(1127,1600),(1128,1800),(1129,1600),(1131,700),(1133,150),(1135,50),(1137,35),(1139,15),
           (1141,10),(1144,15),(1148,20),(1152,19),(1156,11),(1159,7.5),(1162,9),(1166,12),(1170,15),(1174,17),(1178,18),
           (1182,22),(1186,30),(1191,42),(1196,55),(1199,60),(1202,40),(1205,18),(1208,10),(1212,10.5),(1216,11.5),
           (1220,12),(1224,12.5),(1228,13),(1233,13.5),(1238,14),(1243,14.5),(1248,15),(1253,16),(1258,17),(1263,20),
           (1268,28),(1272,45),(1276,90),(1279,150),(1282,180),(1284,120),(1286,80),(1288,75),(1291,110),(1294,220),
           (1297,450),(1299,600),(1301,400),(1303,220),(1306,180),(1311,190),(1316,210),(1322,240),(1328,250),(1334,210),
           (1340,180),(1346,170),(1352,175),(1358,160),(1364,170),(1370,150),(1376,165),(1381,140),(1385,160),(1389,135),
           (1393,155),(1397,145),(1401,165),(1405,150),(1410,150),(1425,148),(1440,142),(1460,137),(1480,130),(1500,122),
           (1520,112),(1540,102),(1555,95),(1565,88),(1571,84),(1577,78),(1582,65),(1587,50),(1592,35)]

# ---------------- colours ----------------
C_LGRAY = '#c4c4c4'
C_DGRAY = '#3a3a3a'
C_MGRAY = '#5a5a5a'
C_DRED = '#c8151b'
C_LRED = '#f6a4a4'
C_RED = '#f03a3d'
C_LBLUE = '#92c0ec'
C_DBLUE = '#1b4f98'
C_BLUE = '#2270da'
C_LGREEN = '#98ddb9'
C_DGREEN = '#1f6f43'
C_GREEN = '#33ae69'

# (series, colour, legend prefix, mantissa, exponent, zorder) in legend order
PANEL_SERIES = [
    [(A_LIGHT, C_LGRAY, '', '1.7', '-07', 2), (A_DARK, C_DGRAY, '', '2.6', '-10', 3)],
    [(B_DARK, C_DRED, '', '3.3', '-10', 2), (B_LIGHT, C_LRED, '', '9.1', '-08', 3)],
    [(C_LIGHT, C_LBLUE, '', '8.6', '-08', 2), (C_DARK, C_DBLUE, '', '2.5', '-10', 3)],
    [(D_LIGHT, C_LGREEN, '', '7.8', '-08', 2), (D_DARK, C_DGREEN, '< ', '5.0', '-11', 3)],
    [(E_LIGHT, C_LGRAY, '', '1.3', '-07', 2), (E_DARK, C_MGRAY, '', '1.7', '-07', 3)],
    [(F_LIGHT, C_LGRAY, '', '1.3', '-07', 2), (F_RED, C_RED, '', '9.1', '-08', 3)],
    [(G_LIGHT, C_LGRAY, '', '1.2', '-07', 2), (G_BLUE, C_BLUE, '', '8.6', '-08', 3)],
    [(H_LIGHT, C_LGRAY, '', '5.0', '-08', 2), (H_GREEN, C_GREEN, '', '7.8', '-08', 3)],
    [(I_LIGHT, C_LGRAY, '< ', '5.0', '-11', 2), (I_DARK, C_DGRAY, '', '2.6', '-10', 3)],
    [(J_LIGHT, C_LGRAY, '< ', '5.0', '-11', 2), (J_RED, C_RED, '', '3.3', '-10', 3)],
    [(K_LIGHT, C_LGRAY, '< ', '5.0', '-11', 2), (K_BLUE, C_BLUE, '', '2.5', '-10', 3)],
    [(L_LIGHT, C_LGRAY, '< ', '5.0', '-11', 2), (L_GREEN, C_GREEN, '< ', '5.0', '-11', 3)],
]

# peak labels (text, wavelength, intensity)
PANEL_ANNOT = [
    [('Si-bulk', 1131, 36), ('W', 1216, 380), ('G', 1274, 235), ("G'", 1299, 4250)],
    [('Si-bulk', 1131, 210), ('W', 1216, 330), ('G', 1268, 141), ("G'", 1299, 9200)],
    [('Si-bulk', 1131, 197), ('W', 1215, 18.4), ('G', 1274, 70), ("G'", 1298, 3260)],
    [('Si-bulk', 1132, 490), ("W'", 1224, 38), ('G', 1274, 127), ("G'", 1299, 620)],
    [('Si-bulk', 1120, 235)],
    [('Si-bulk', 1131, 1960), ('W', 1215, 38), ('G', 1271, 63), ("G'", 1296, 565)],
    [('Si-bulk', 1130, 1580), ("G'", 1299, 710)],
    [('Si-bulk', 1128, 1700), ('G', 1279, 56), ("G'", 1300, 190), ('W', 1182, 1.05), ("W'", 1275, 1.27)],
    [('Si-bulk', 1129, 310), ('W', 1216, 3900), ('G', 1275, 710), ("G'", 1300, 13000), ('T', 1326, 300)],
    [('Si-bulk', 1131, 2240), ('W', 1216, 3900), ('G', 1266, 365), ("G'", 1301, 20000), ('T', 1324, 225)],
    [('Si-bulk', 1130, 5400), ('W', 1210, 1050), ("W'", 1231, 225), ('G', 1275, 250), ("G'", 1300, 7500), ('T', 1324, 41)],
    [('Si-bulk', 1133, 14600), ("W'", 1231, 146), ('G', 1275, 300), ("G'", 1300, 1170), ('W', 1182, 1.4)],
]
# arrows (tail wl, tail I, head wl, head I)
PANEL_ARROWS = {
    3: [(1219, 11.4, 1226, 26)],
    7: [(1214, 5.6, 1188, 1.8), (1232, 6.0, 1263, 2.2)],
    11: [(1211, 16, 1188, 2.6)],
}

# ---------------- figure ----------------
W, H = 921, 1026
fig = plt.figure(figsize=(W / 100, H / 100), dpi=100)
fig.patch.set_facecolor('white')

COL_LEFT = [86, 292, 499, 706]
ROW_TOP = [352, 559, 766]
AX_W, AX_H = 203, 205
XLIM = (1050, 1596)
YLIM = (0.49, 3.5e5)

for p in range(12):
    r, c = divmod(p, 4)
    l, t = COL_LEFT[c], ROW_TOP[r]
    ax = fig.add_axes([l / W, 1 - (t + AX_H) / H, AX_W / W, AX_H / H])
    handles, labels = [], []
    for series, color, pre, mant, expo, z in PANEL_SERIES[p]:
        xs = [q[0] for q in series]
        ys = [q[1] for q in series]
        h, = ax.plot(xs, ys, color=color, lw=1.15, zorder=z, solid_joinstyle='round')
        handles.append(h)
        labels.append(pre + mant + '·10$^{\\mathsf{' + expo + '}}$ mbar')
    ax.set_yscale('log')
    ax.set_xlim(*XLIM)
    ax.set_ylim(*YLIM)
    ax.yaxis.set_major_locator(FixedLocator(Y_TICKS))
    ax.yaxis.set_minor_locator(LogLocator(base=10, subs=[2, 3, 4, 5, 6, 7, 8, 9], numticks=20))
    ax.yaxis.set_minor_formatter(NullFormatter())
    ax.xaxis.set_major_locator(FixedLocator(X_TICKS))
    ax.xaxis.set_minor_locator(MultipleLocator(25))
    if c == 0:
        ax.yaxis.set_major_formatter(FixedFormatter(Y_TICK_LABELS))
    else:
        ax.yaxis.set_major_formatter(NullFormatter())
    if r == 2:
        ax.xaxis.set_major_formatter(FixedFormatter(X_TICK_LABELS))
    else:
        ax.xaxis.set_major_formatter(NullFormatter())
    ax.tick_params(axis='x', which='major', direction='in', top=True, bottom=True, length=5, width=0.8,
                   labelsize=10.5, pad=5, color='#333333')
    ax.tick_params(axis='x', which='minor', direction='in', top=True, bottom=True, length=3, width=0.7, color='#333333')
    ax.tick_params(axis='y', which='major', direction='inout', left=True, right=True, length=7, width=0.8,
                   labelsize=10.5, pad=2, color='#333333')
    ax.tick_params(axis='y', which='minor', direction='in', left=True, right=True, length=3, width=0.7, color='#333333')
    for s in ax.spines.values():
        s.set_linewidth(1.1)
        s.set_color('#3a3a3a')
    ax.text(0.045, 0.908, PANEL_LETTERS[p], transform=ax.transAxes, fontsize=12, fontweight='bold',
            ha='left', va='center', color='#111111')
    leg = ax.legend(handles, labels, loc='upper right', bbox_to_anchor=(1.0, 1.0), frameon=False, fontsize=9,
                    handlelength=1.25, handletextpad=0.3, labelspacing=0.2, borderaxespad=0.25, borderpad=0.3)
    for txt in PANEL_ANNOT[p]:
        ax.text(txt[1], txt[2], txt[0], fontsize=9, ha='center', va='center', color='#222222', zorder=5)
    for (x0, y0, x1, y1) in PANEL_ARROWS.get(p, []):
        ax.annotate('', xy=(x1, y1), xytext=(x0, y0),
                    arrowprops=dict(arrowstyle='-|>', color='black', lw=1.1, mutation_scale=9,
                                    shrinkA=0, shrinkB=0), zorder=6)
    if r == 0:
        ax.set_title(COL_TITLES[c], fontsize=13, pad=3)

fig.text(18 / W, 1 - 661 / H, 'PL Intensity (cps)', rotation=90, ha='center', va='center', fontsize=12.5)
fig.text(500 / W, 1 - 1009 / H, 'Wavelength (nm)', ha='center', va='center', fontsize=12.5)

# ---------------- justified paragraph ----------------
renderer = fig.canvas.get_renderer()
PFONT = dict(family='Liberation Serif', fontsize=17.3)
LEFT_PX, RIGHT_PX = 8, 913
BASE0, STEP = 22, 34
LINK = '#2323d6'


def word_parts(word):
    if word.startswith('2b'):
        return [('2b', LINK), (word[2:], 'black')] if len(word) > 2 else [('2b', LINK)]
    return [(word, 'black')]


def measure(s):
    t = fig.text(0, 0, s, **PFONT)
    w = t.get_window_extent(renderer).width
    t.remove()
    return w


for i, line in enumerate(PARA_LINES):
    words = line.split(' ')
    parts = [word_parts(w) for w in words]
    widths = [sum(measure(s) for s, _ in wp) for wp in parts]
    if PARA_JUSTIFY[i] and len(words) > 1:
        gap = (RIGHT_PX - LEFT_PX - sum(widths)) / (len(words) - 1)
    else:
        gap = measure('a b') - measure('ab')
    x = LEFT_PX
    y = 1 - (BASE0 + STEP * i) / H
    for wp, wd in zip(parts, widths):
        xx = x
        for s, col in wp:
            fig.text(xx / W, y, s, color=col, ha='left', va='baseline', **PFONT)
            xx += measure(s)
        x += wd + gap

fig.savefig('out.png', dpi=100, facecolor='white')
